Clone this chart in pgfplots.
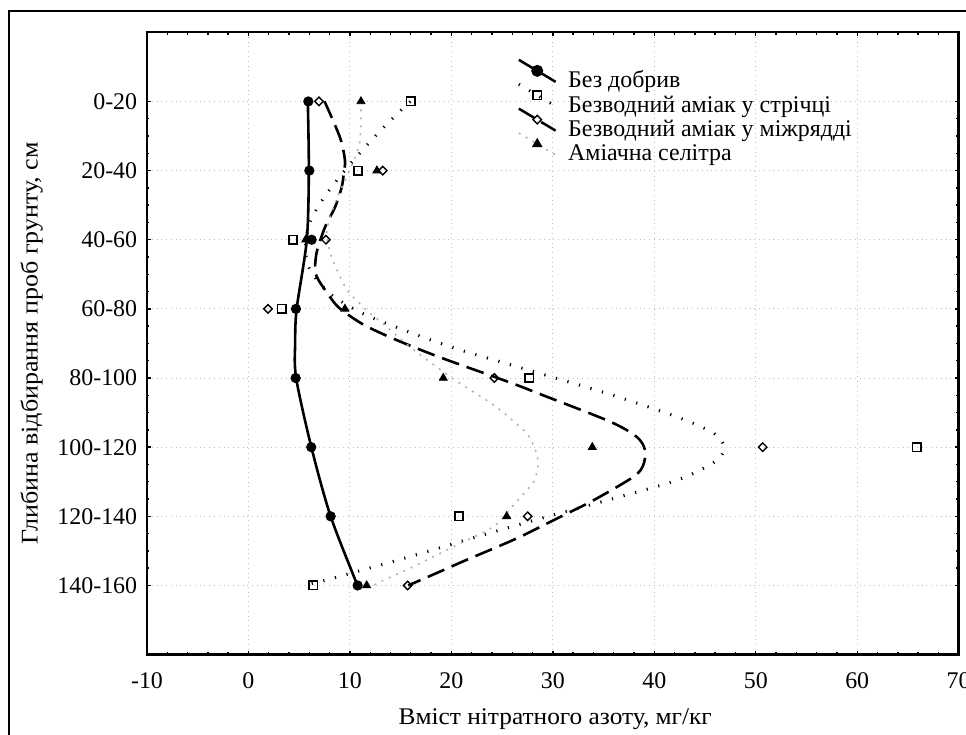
\documentclass[border=0pt]{standalone}
\usepackage{fontspec}
\setmainfont{Liberation Serif}
\usepackage{pgfplots}
\pgfplotsset{compat=1.18}

\newcommand{\lblfont}{\fontsize{12}{14}\selectfont}

\begin{document}
\begin{tikzpicture}
\begin{axis}[
  at={(73.5bp,40.2bp)}, anchor=south west,
  scale only axis, width=405.85bp, height=311.15bp,
  xmin=-10, xmax=70, ymin=-9, ymax=0,
  xtick={-10,0,...,70}, xticklabels={-10,0,10,20,30,40,50,60,70},
  minor x tick num=4,
  ytick={-8,...,-1},
  yticklabels={140-160,120-140,100-120,80-100,60-80,40-60,20-40,0-20},
  minor y tick num=3,
  tick align=inside, tick pos=both,
  major tick length=2bp, minor tick length=1.2bp,
  tick style={black, line width=0.7bp},
  axis line style={line width=1.2bp},
  grid=major, grid style={black!25, dotted, line width=0.5bp},
  /pgf/number format/assume math mode=true,
  tick label style={font=\lblfont},
  xticklabel style={anchor=base, yshift=-16.7bp},
  yticklabel style={anchor=east, xshift=-1.4bp},
  label style={font=\lblfont},
  xlabel={Вміст нітратного азоту, мг/кг},
  xlabel style={at={(axis description cs:0.503,-0.1131)}, anchor=base, xscale=1.06},
  ylabel={Глибина відбирання проб грунту, см},
  ylabel style={at={(axis description cs:-0.1349,0.5)}, anchor=base, rotate=0, xscale=1.09},
  legend cell align=left,
  legend style={draw=none, fill=none, at={(axis cs:26.46,-0.543)}, anchor=north west,
    inner sep=0pt, row sep=0.6bp, column sep=5bp,
    nodes={inner sep=0.5bp, text height=8.2bp, text depth=2.4bp, font=\lblfont}},
  legend image code/.code={
    \path (0bp,0bp) (18.4bp,0bp);
    \draw[overlay,mark repeat=2,mark phase=2,#1] plot coordinates {(0bp,11bp) (9.2bp,5.5bp) (18.4bp,0bp)};},
]
% legend entries
\addlegendimage{black, line width=1.25bp, mark=*, mark size=2.35bp}
\addlegendentry{Без добрив}
\addlegendimage{black, line width=1.5bp, dash pattern=on 0.6bp off 5.4bp,
  mark=square, mark size=2.1bp, mark options={solid, fill=white, line width=0.8bp}}
\addlegendentry{Безводний аміак у стрічці}
\addlegendimage{black, line width=1.25bp, dash pattern=on 9bp off 4bp,
  mark=square, mark size=1.5bp, mark options={solid, rotate=45, fill=white, line width=0.7bp}}
\addlegendentry{Безводний аміак у міжрядді}
\addlegendimage{black!30, line width=0.8bp, dash pattern=on 1bp off 3bp,
  mark=triangle*, mark size=2.3bp, mark options={solid, fill=black, draw=black}}
\addlegendentry{Аміачна селітра}

% fitted curves
\addplot[forget plot, black, line width=1.3bp, smooth] coordinates {
(5.85,-1) (5.95,-2) (5.75,-3) (4.75,-4) (4.6,-4.5) (4.7,-5) (6.2,-6) (8.1,-7) (10.75,-8)};
\addplot[forget plot, black, line width=1.5bp, dash pattern=on 0.6bp off 5.4bp, smooth] coordinates {
(15.95,-1) (13.55,-1.34) (11.38,-1.68) (9.38,-2.02) (7.54,-2.37) (6.13,-2.72) (5.64,-3.05)
(5.95,-3.4) (7.87,-3.76) (11.16,-4.06) (15.75,-4.33) (20.35,-4.57) (24.95,-4.77) (29.55,-4.97)
(35.3,-5.22) (42.2,-5.56) (45.65,-5.78) (46.8,-5.95) (46.7,-6.1) (45.65,-6.24) (42.2,-6.48)
(35.3,-6.77) (29.55,-7.0) (22.65,-7.29) (15.75,-7.59) (11.16,-7.78) (7.71,-7.92) (5.4,-8.0)};
\addplot[forget plot, black, line width=1.3bp, dash pattern=on 9bp off 4bp, smooth] coordinates {
(7.5,-1.0) (9.02,-1.52) (9.51,-1.85) (9.41,-2.02) (9.19,-2.24) (8.53,-2.53) (7.54,-2.82)
(6.7,-3.2) (6.65,-3.5) (7.71,-3.76) (8.69,-3.95) (9.68,-4.07) (11.48,-4.24) (13.95,-4.41)
(16.58,-4.57) (18.87,-4.70) (21.5,-4.84) (23.8,-4.96) (26.43,-5.10) (29.05,-5.25) (35.63,-5.63)
(38.26,-5.85) (39.08,-6.04) (38.91,-6.26) (37.93,-6.43) (33.98,-6.77) (30.7,-7.01) (26.43,-7.32)
(21.5,-7.63) (18.87,-7.80) (15.75,-8.0)};
\addplot[forget plot, black!30, line width=0.8bp, dash pattern=on 1bp off 3bp, smooth] coordinates {
(11.1,-1.0) (11.0,-1.56) (10.5,-1.81) (9.68,-2.09) (8.36,-2.53) (7.71,-2.91) (8.2,-3.25)
(9.34,-3.63) (10.0,-3.78) (10.82,-3.90) (11.65,-4.02) (13.62,-4.26) (15.92,-4.55) (18.55,-4.84)
(20.35,-5.03) (22.16,-5.20) (23.97,-5.37) (25.61,-5.56) (27.42,-5.80) (28.3,-6.05) (28.55,-6.25)
(28.2,-6.48) (27.58,-6.60) (26.1,-6.84) (24.13,-7.15) (20.19,-7.44) (16.24,-7.73) (12.96,-7.95)
(12.4,-8.0)};

% measured values
\addplot[forget plot, only marks, mark=*, mark size=2.35bp, black] coordinates {
(5.9,-1) (6.0,-2) (6.23,-3) (4.68,-4) (4.65,-5) (6.19,-6) (8.1,-7) (10.76,-8)};
\addplot[forget plot, only marks, mark=square, mark size=2.1bp, black, mark options={fill=white, line width=0.8bp}] coordinates {
(15.99,-1) (10.79,-2) (4.39,-3) (3.29,-4) (27.68,-5) (65.86,-6) (20.75,-7) (6.39,-8)};
\addplot[forget plot, only marks, mark=square, mark size=1.5bp, black, mark options={rotate=45, fill=white, line width=0.7bp}] coordinates {
(6.95,-1) (13.23,-2) (7.64,-3) (1.92,-4) (24.23,-5) (50.68,-6) (27.52,-7) (15.69,-8)};
\addplot[forget plot, only marks, mark=triangle*, mark size=2.3bp, black] coordinates {
(11.09,-1) (12.66,-2) (5.64,-3) (9.51,-4) (19.2,-5) (33.89,-6) (25.45,-7) (11.65,-8)};
\end{axis}
\draw[line width=1.2bp] (4.5bp,-5bp) -- (4.5bp,362bp) -- (500bp,362bp);
\pgfresetboundingbox
\useasboundingbox (0,0) rectangle (483bp,367.5bp);
\end{tikzpicture}
\end{document}
